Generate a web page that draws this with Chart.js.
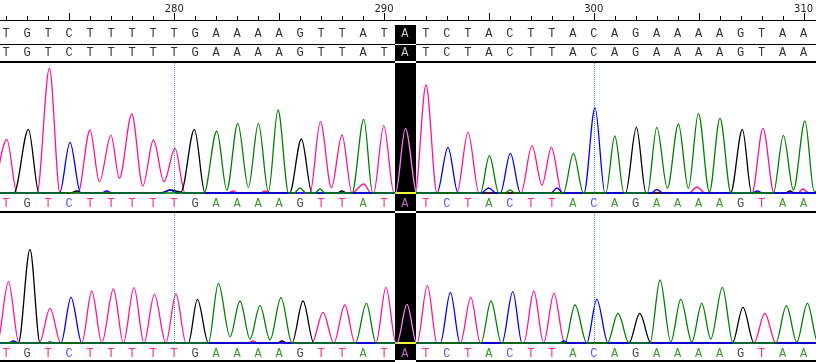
<!DOCTYPE html>
<html>
<head>
<meta charset="utf-8">
<script src="https://cdn.jsdelivr.net/npm/chart.js@4.4.1/dist/chart.umd.min.js"></script>
<style>
html, body { margin: 0; padding: 0; background: #fff; }
#wrap { position: relative; width: 816px; height: 362px; overflow: hidden; }
canvas { position: absolute; left: 0; }
#top { top: 0; }
#bot { top: 211px; }
</style>
</head>
<body>
<div id="wrap">
  <canvas id="top" width="816" height="211"></canvas>
  <canvas id="bot" width="816" height="151"></canvas>
</div>
<script>
// base calls shown in the window (first base is 272)
var firstBase = 272;
var bases = 'TGTCTTTTTGAAAAGTTATATCTACTTACAGAAAAGTAA'.split('');
// scan position of each called base
var baseCalls = [3203.1, 3213.6, 3224.1, 3234.6, 3245.1, 3255.6, 3266.1, 3276.6, 3287.1, 3297.5,
  3308.0, 3318.5, 3329.0, 3339.5, 3350.0, 3360.5, 3371.0, 3381.5, 3392.0, 3402.4,
  3412.9, 3423.4, 3433.9, 3444.4, 3454.9, 3465.4, 3475.9, 3486.4, 3496.9, 3507.3,
  3517.8, 3528.3, 3538.8, 3549.3, 3559.8, 3570.3, 3580.8, 3591.3, 3601.8];
var selectedBase = 291;
var guideBases = [280, 300];

// trace 1 (upper), [scan, signal]
var topA = [[3197,10],[3302,10],[3308.4,630],[3313.4,40],[3318.9,707],[3324.2,67],[3329.2,707],[3334.2,20],
  [3339,840],[3344.3,10],[3347,10],[3350,60],[3353,10],[3357.5,10],[3360,50],[3362.5,10],[3376,10],
  [3381.9,747],[3386.3,10],[3397.8,10],[3402.7,657],[3408.5,10],[3440.2,10],[3444.7,383],[3449.4,10],
  [3452.5,10],[3455,40],[3457.5,10],[3481.7,10],[3486.7,407],[3491.7,10],[3502.9,10],[3507.4,580],
  [3512,10],[3523.7,10],[3528.4,667],[3533.7,57],[3539.2,700],[3544.2,57],[3549.2,807],[3554.7,20],
  [3560,757],[3565.5,10],[3586.7,10],[3591.7,587],[3596.7,40],[3602.5,730],[3607,30],[3611,20]];
var topC = [[3197,10],[3229.8,10],[3235,517],[3240.3,10],[3250.5,10],[3253.4,30],[3256,10],[3281.5,10],
  [3285,40],[3288.5,10],[3418.5,10],[3424,467],[3429,10],[3440.5,10],[3444.4,60],[3448,10],[3450.2,10],
  [3455.2,407],[3460.2,10],[3475.5,10],[3478.5,60],[3481.5,10],[3492,10],[3497.5,863],[3502.5,10],
  [3525.5,10],[3528.5,45],[3531.5,10],[3575.5,10],[3578.7,30],[3581.5,10],[3611,10]];
var topG = [[3197,10],[3207,10],[3214.2,647],[3219.5,10],[3235,10],[3238.4,30],[3241.5,10],[3280,10],
  [3285,40],[3290.5,20],[3297.2,647],[3302.5,10],[3344.8,10],[3350.7,550],[3356,10],[3368.5,10],
  [3371,30],[3373.5,10],[3512.8,10],[3518.2,667],[3523,10],[3565.3,10],[3571.2,647],[3575.8,10],
  [3592.5,10],[3595,30],[3597.5,10],[3611,10]];
var topT = [[3197,20],[3203.4,547],[3208.5,10],[3218.5,10],[3224.7,1257],[3230,10],[3239,10],[3245,640],
  [3249.7,123],[3255.5,587],[3259.7,157],[3265.9,800],[3271.4,80],[3276.7,540],[3282,123],[3287.5,457],
  [3292.5,10],[3314,10],[3316.5,30],[3319,10],[3330,10],[3332.5,30],[3335,10],[3355,10],[3360.2,723],
  [3365.7,63],[3371,590],[3376,10],[3381.9,100],[3385.5,10],[3386.8,10],[3391.9,683],[3397,10],
  [3407.5,10],[3413,1090],[3418.5,10],[3428.5,10],[3434,617],[3439.5,10],[3460.5,10],[3466,483],
  [3471,90],[3475.7,467],[3481,10],[3544.5,10],[3548.5,70],[3552.5,10],[3576,10],[3581.5,657],
  [3587,10],[3599,10],[3601.5,50],[3604.5,10],[3611,10]];

// trace 2 (lower), [scan, signal]
var botA = [[3197,10],[3304.2,10],[3309.2,607],[3315,73],[3320,430],[3325,50],[3330,383],[3335,40],
  [3340.5,463],[3346,10],[3377.7,10],[3383.2,407],[3388,10],[3398.5,10],[3403.5,397],[3408.3,10],
  [3440.5,10],[3445.5,430],[3450.7,10],[3482.4,10],[3487.5,390],[3493.4,10],[3503.7,10],[3509,307],
  [3514.5,10],[3525,10],[3530,640],[3535.4,20],[3540.4,447],[3545.9,20],[3550.9,407],[3555.4,50],
  [3561.2,567],[3566.5,10],[3587.9,10],[3593.2,383],[3598.4,20],[3603.7,407],[3609,10],[3611,10]];
var botC = [[3197,10],[3204,10],[3206.7,30],[3209.5,10],[3222.5,10],[3225,20],[3227.5,10],[3230.5,10],
  [3235.5,467],[3240.9,10],[3420.2,10],[3425.2,517],[3430,10],[3451,10],[3456.4,523],[3461,10],
  [3479.5,10],[3482,30],[3484.5,10],[3493.4,10],[3498.4,447],[3504,10],[3611,10]];
var botG = [[3197,10],[3209.2,10],[3215,947],[3220,10],[3294.2,10],[3298.7,447],[3304.2,10],[3338.5,10],
  [3341,30],[3343.5,10],[3346,10],[3351.5,430],[3356.9,10],[3514.5,10],[3519.9,307],[3525.4,10],
  [3566.2,10],[3571.5,367],[3577,10],[3611,10]];
var botT = [[3197,10],[3199,30],[3204.2,623],[3209.5,10],[3219.7,10],[3225,357],[3230.4,10],[3240.9,10],
  [3245.9,530],[3250.9,10],[3256.7,550],[3261.7,10],[3267,563],[3272,10],[3277.2,497],[3282.9,10],
  [3288,500],[3293,10],[3324,10],[3326.5,30],[3329,10],[3356,10],[3361.5,317],[3366.9,10],[3372.4,390],
  [3377.5,10],[3388,10],[3393,567],[3398,10],[3408.5,10],[3413.7,583],[3418.5,10],[3430.2,10],
  [3435.4,467],[3440.2,10],[3461.9,10],[3466.9,530],[3471.8,10],[3477,507],[3482.3,10],[3577,10],
  [3582.4,307],[3587.9,10],[3611,10]];

var traceColor = { A: '#008000', C: '#0000ff', G: '#000000', T: '#ff1493' };
var letterColor = { A: '#3f9a2e', C: '#4a5cff', G: '#4a4a4a', T: '#ff2a8a' };

function dataset(base, pts) {
  return {
    label: base,
    data: pts.map(function (p) { return { x: p[0], y: p[1] }; }),
    borderColor: traceColor[base],
    borderWidth: 1.3,
    pointRadius: 0,
    fill: false,
    cubicInterpolationMode: 'monotone'
  };
}

function chromaPlugin(isTop, letterY) {
  return {
    id: 'chroma',
    beforeDraw: function (chart) {
      var ctx = chart.ctx;
      ctx.save();
      ctx.fillStyle = '#fff';
      ctx.fillRect(0, 0, chart.width, chart.height);
      ctx.restore();
    },
    afterDraw: function (chart) {
      var ctx = chart.ctx, xs = chart.scales.x, area = chart.chartArea, W = chart.width, H = chart.height;
      ctx.save();

      // dotted guide lines
      ctx.strokeStyle = '#3b8fd0';
      ctx.lineWidth = 1;
      ctx.setLineDash([1, 1]);
      guideBases.forEach(function (b) {
        var px = Math.round(xs.getPixelForValue(baseCalls[b - firstBase])) + 0.5;
        ctx.beginPath();
        ctx.moveTo(px, area.top);
        ctx.lineTo(px, area.bottom);
        ctx.stroke();
      });
      ctx.setLineDash([]);

      // base letters under the trace
      ctx.font = '12px "Liberation Mono", monospace';
      ctx.textAlign = 'center';
      ctx.textBaseline = 'middle';
      bases.forEach(function (b, i) {
        ctx.fillStyle = letterColor[b];
        ctx.fillText(b, xs.getPixelForValue(baseCalls[i]), letterY);
      });

      ctx.fillStyle = '#000';
      if (isTop) {
        // ruler
        ctx.fillRect(0, 20, W, 1);
        baseCalls.forEach(function (s, i) {
          var n = firstBase + i;
          var px = Math.round(xs.getPixelForValue(s));
          var len = n % 5 === 0 ? 7 : 4;
          ctx.fillRect(px, 20 - len, 1, len);
        });
        ctx.font = '10px "DejaVu Sans", sans-serif';
        ctx.textBaseline = 'alphabetic';
        ctx.fillStyle = '#222';
        baseCalls.forEach(function (s, i) {
          var n = firstBase + i;
          if (n % 10 === 0) ctx.fillText(String(n), xs.getPixelForValue(s), 12);
        });
        // sequence rows
        ctx.font = '12px "Liberation Mono", monospace';
        ctx.textBaseline = 'middle';
        ctx.fillStyle = '#333';
        bases.forEach(function (b, i) {
          var px = xs.getPixelForValue(baseCalls[i]);
          ctx.fillText(b, px, 34);
          ctx.fillText(b, px, 53);
        });
        ctx.fillStyle = '#000';
        ctx.fillRect(0, 44, W, 1);
        ctx.fillRect(0, 61, W, 2);
      } else {
        ctx.fillRect(0, 0, W, 2);
        ctx.fillRect(0, H - 2, W, 2);
      }

      // selected base: inverted column
      var k = selectedBase - firstBase;
      var p0 = xs.getPixelForValue(baseCalls[k - 1]);
      var p1 = xs.getPixelForValue(baseCalls[k]);
      var p2 = xs.getPixelForValue(baseCalls[k + 1]);
      var left = Math.round((p0 + p1) / 2 + 1);
      var right = Math.round((p1 + p2) / 2 + 1);
      ctx.globalCompositeOperation = 'difference';
      ctx.fillStyle = '#fff';
      ctx.fillRect(left, isTop ? 25 : 0, right - left, isTop ? H - 25 : H);
      ctx.restore();
    }
  };
}

function makeChart(id, sets, padTop, padBottom, isTop, letterY) {
  return new Chart(document.getElementById(id), {
    type: 'line',
    data: { datasets: sets },
    options: {
      responsive: false,
      animation: false,
      events: [],
      layout: { padding: { top: padTop, bottom: padBottom, left: 0, right: 0 } },
      plugins: { legend: { display: false }, tooltip: { enabled: false } },
      scales: {
        x: { type: 'linear', min: 3200, max: 3608, display: false },
        y: { min: -10, max: 1310, display: false }
      }
    },
    plugins: [chromaPlugin(isTop, letterY)]
  });
}

makeChart('top', [dataset('A', topA), dataset('C', topC), dataset('G', topG), dataset('T', topT)],
  63, 16, true, 204);
makeChart('bot', [dataset('A', botA), dataset('C', botC), dataset('G', botG), dataset('T', botT)],
  2, 17, false, 143);
</script>
</body>
</html>
